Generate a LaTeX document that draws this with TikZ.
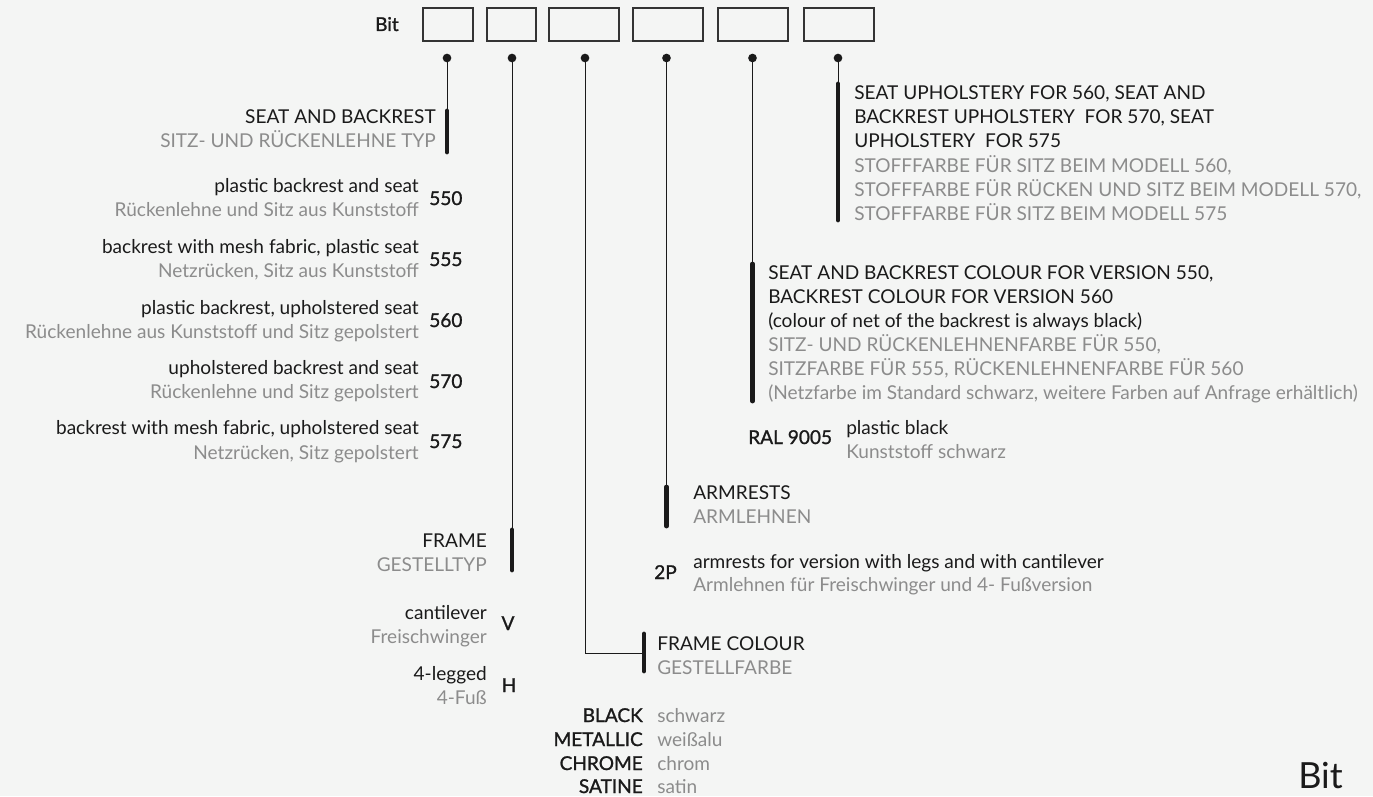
\documentclass[tikz,border=0pt]{standalone}
\usepackage{fontspec}
\setmainfont{Lato}
\newfontfamily\medfont{Lato}[FakeBold=1.2]
\definecolor{bg}{HTML}{F4F5F4}
\definecolor{txt}{HTML}{1A1A1A}
\definecolor{gry}{HTML}{8C8C8C}
\definecolor{boxc}{HTML}{333333}
\newcommand\fs{\fontsize{14.3pt}{18pt}\selectfont}
\tikzset{
  en/.style={text=txt, font=\fs, inner sep=0pt},
  de/.style={text=gry, font=\fs, inner sep=0pt},
  num/.style={text=txt, font=\fs\medfont, inner sep=0pt},
  boxn/.style={draw=boxc, line width=0.8pt, inner sep=0pt, minimum height=24.75pt},
  dotn/.style={circle, fill=txt, inner sep=0pt, minimum size=6.5pt},
  conn/.style={draw=txt, line width=0.75pt},
  barl/.style={draw=txt, line width=3.6pt, line cap=round},
}
\begin{document}
\begin{tikzpicture}[x=0.75pt,y=-0.75pt]
\fill[bg] (0,0) rectangle (1373,796);
\useasboundingbox (0,0) rectangle (1373,796);

% top row
\node[num, anchor=base east] (bit) at (399,31) {Bit};
\node[boxn, minimum width=37.5pt] (b1) at (448,24.5) {};
\node[boxn, minimum width=36.75pt] (b2) at (511.5,24.5) {};
\node[boxn, minimum width=52.5pt] (b3) at (584,24.5) {};
\node[boxn, minimum width=52.5pt] (b4) at (668,24.5) {};
\node[boxn, minimum width=52.5pt] (b5) at (753,24.5) {};
\node[boxn, minimum width=52.5pt] (b6) at (839,24.5) {};

\node[dotn] (d1) at (447,58) {};
\node[dotn] (d2) at (512,58) {};
\node[dotn] (d3) at (585,58) {};
\node[dotn] (d4) at (666.5,58) {};
\node[dotn] (d5) at (752.5,58) {};
\node[dotn] (d6) at (838,58) {};

% bars
\coordinate (t1) at (447,111); \coordinate (e1) at (447,152);
\coordinate (t2) at (512,530); \coordinate (e2) at (512,570);
\coordinate (t3) at (644,634); \coordinate (e3) at (644,671); \coordinate (m3) at (644,653);
\coordinate (t4) at (666.5,487); \coordinate (e4) at (666.5,526);
\coordinate (t5) at (752.5,264); \coordinate (e5) at (752.5,401);
\coordinate (t6) at (838,84); \coordinate (e6) at (838,220);

\draw[conn] (d1.center) -- (t1);
\draw[conn] (d2.center) -- (t2);
\draw[conn] (d3.center) |- (m3);
\draw[conn] (d4.center) -- (t4);
\draw[conn] (d5.center) -- (t5);
\draw[conn] (d6.center) -- (t6);

\draw[barl] (t1) -- (e1);
\draw[barl] (t2) -- (e2);
\draw[barl] (t3) -- (e3);
\draw[barl] (t4) -- (e4);
\draw[barl] (t5) -- (e5);
\draw[barl] (t6) -- (e6);

% group 1: seat and backrest
\node[en, anchor=base east] (g1a) at (436,123) {SEAT AND BACKREST};
\node[de, anchor=base east] (g1b) at (436,147) {SITZ- UND RÜCKENLEHNE TYP};

\node[en, anchor=base east] (s1a) at (419,192) {plastic backrest and seat};
\node[de, anchor=base east] (s1b) at (419,216) {Rückenlehne und Sitz aus Kunststoff};
\node[num, anchor=base west] (n550) at (429,205) {550};
\node[en, anchor=base east] (s2a) at (419,253) {backrest with mesh fabric, plastic seat};
\node[de, anchor=base east] (s2b) at (419,277) {Netzrücken, Sitz aus Kunststoff};
\node[num, anchor=base west] (n555) at (429,266) {555};
\node[en, anchor=base east] (s3a) at (419,314) {plastic backrest, upholstered seat};
\node[de, anchor=base east] (s3b) at (419,338) {Rückenlehne aus Kunststoff und Sitz gepolstert};
\node[num, anchor=base west] (n560) at (429,327) {560};
\node[en, anchor=base east] (s4a) at (419,374) {upholstered backrest and seat};
\node[de, anchor=base east] (s4b) at (419,398) {Rückenlehne und Sitz gepolstert};
\node[num, anchor=base west] (n570) at (429,388) {570};
\node[en, anchor=base east] (s5a) at (419,434) {backrest with mesh fabric, upholstered seat};
\node[de, anchor=base east] (s5b) at (419,459) {Netzrücken, Sitz gepolstert};
\node[num, anchor=base west] (n575) at (429,448) {575};

% group 2: frame
\node[en, anchor=base east] (g2a) at (487,547) {FRAME};
\node[de, anchor=base east] (g2b) at (487,571) {GESTELLTYP};
\node[en, anchor=base east] (f1a) at (487,619) {cantilever};
\node[de, anchor=base east] (f1b) at (487,643) {Freischwinger};
\node[num, anchor=base] (nV) at (508,630) {V};
\node[en, anchor=base east] (f2a) at (487,680) {4-legged};
\node[de, anchor=base east] (f2b) at (487,704) {4-Fuß};
\node[num, anchor=base] (nH) at (509,692) {H};

% group 3: frame colour
\node[en, anchor=base west] (g3a) at (657,650) {FRAME COLOUR};
\node[de, anchor=base west] (g3b) at (657,674) {GESTELLFARBE};
\node[num, anchor=base east] (c1a) at (643,722) {BLACK};
\node[de, anchor=base west] (c1b) at (657,722) {schwarz};
\node[num, anchor=base east] (c2a) at (643,746) {METALLIC};
\node[de, anchor=base west] (c2b) at (657,746) {weißalu};
\node[num, anchor=base east] (c3a) at (643,770) {CHROME};
\node[de, anchor=base west] (c3b) at (657,770) {chrom};
\node[num, anchor=base east] (c4a) at (643,793) {SATINE};
\node[de, anchor=base west] (c4b) at (657,793) {satin};

% group 4: armrests
\node[en, anchor=base west] (g4a) at (693,499) {ARMRESTS};
\node[de, anchor=base west] (g4b) at (693,523) {ARMLEHNEN};
\node[num, anchor=base east] (n2P) at (677,579) {2P};
\node[en, anchor=base west] (a1a) at (693,568) {armrests for version with legs and with cantilever};
\node[de, anchor=base west] (a1b) at (693,591) {Armlehnen für Freischwinger und 4- Fußversion};

% group 5: colour
\node[en, anchor=base west] (g5a) at (768,279) {SEAT AND BACKREST COLOUR FOR VERSION 550,};
\node[en, anchor=base west] (g5b) at (768,303) {BACKREST COLOUR FOR VERSION 560};
\node[en, anchor=base west] (g5c) at (768,327) {(colour of net of the backrest is always black)};
\node[de, anchor=base west] (g5d) at (768,351) {SITZ- UND RÜCKENLEHNENFARBE FÜR 550,};
\node[de, anchor=base west] (g5e) at (768,375) {SITZFARBE FÜR 555, RÜCKENLEHNENFARBE FÜR 560};
\node[de, anchor=base west] (g5f) at (768,399) {(Netzfarbe im Standard schwarz, weitere Farben auf Anfrage erhältlich)};
\node[num, anchor=base west] (ral) at (748,444) {RAL 9005};
\node[en, anchor=base west] (r1a) at (846,434) {plastic black};
\node[de, anchor=base west] (r1b) at (846,458) {Kunststoff schwarz};

% group 6: upholstery
\node[en, anchor=base west] (g6a) at (854,99) {SEAT UPHOLSTERY FOR 560, SEAT AND};
\node[en, anchor=base west] (g6b) at (854,123) {BACKREST UPHOLSTERY\ \ FOR 570, SEAT};
\node[en, anchor=base west] (g6c) at (854,147) {UPHOLSTERY\ \ FOR 575};
\node[de, anchor=base west] (g6d) at (854,172) {STOFFFARBE FÜR SITZ BEIM MODELL 560,};
\node[de, anchor=base west] (g6e) at (854,196) {STOFFFARBE FÜR RÜCKEN UND SITZ BEIM MODELL 570,};
\node[de, anchor=base west] (g6f) at (854,220) {STOFFFARBE FÜR SITZ BEIM MODELL 575};

% footer
\node[text=txt, font=\fontsize{27pt}{32pt}\selectfont, inner sep=0pt, anchor=base west] (foot) at (1298,788) {Bit};
\end{tikzpicture}
\end{document}
